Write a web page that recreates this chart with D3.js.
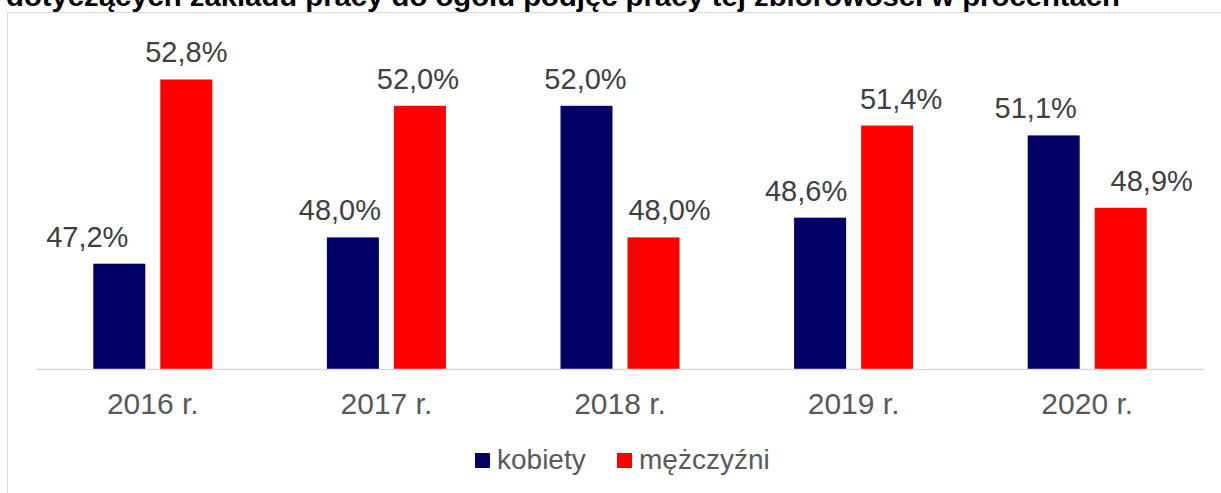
<!DOCTYPE html>
<html>
<head>
<meta charset="utf-8">
<script src="https://cdn.jsdelivr.net/npm/d3@7"></script>
<style>
  html, body { margin: 0; padding: 0; background: #fff; }
  svg { display: block; font-family: "Liberation Sans", Arial, sans-serif; }
</style>
</head>
<body>
<svg id="chart" width="1221" height="493"></svg>
<script>
// data
var title = "dotyczących zakładu pracy do ogółu podjęć pracy tej zbiorowości w procentach";
var years = ["2016 r.", "2017 r.", "2018 r.", "2019 r.", "2020 r."];
var seriesNames = ["kobiety", "mężczyźni"];
var kobiety = [47.2, 48.0, 52.0, 48.6, 51.1];
var mezczyzni = [52.8, 52.0, 48.0, 51.4, 48.9];
var seriesColors = ["#000066", "#ff0000"];

// labels were dragged sideways by hand in the original (px)
var shiftKobiety = [-32, -13, -1, -14, -18];
var shiftMezczyzni = [0, -2, 16, 14, 31];

var svg = d3.select("#chart");

// chart frame (only its top and left edge are inside the picture)
svg.append("rect")
    .attr("x", 7.5)
    .attr("y", 12.5)
    .attr("width", 1300)
    .attr("height", 600)
    .style("fill", "none")
    .style("stroke", "#d9d9d9")
    .style("stroke-width", 1);

// title, cut off at the top edge
svg.append("text")
    .attr("x", 6)
    .attr("y", 5.5)
    .attr("textLength", 1114)
    .attr("lengthAdjust", "spacingAndGlyphs")
    .style("font-size", "28px")
    .style("font-weight", "bold")
    .style("fill", "#000")
    .text(title);

var left = 36, right = 1204, baseY = 369, topY = 40;

var x0 = d3.scaleBand()
    .domain(years)
    .range([left, right]);

var x1 = d3.scaleBand()
    .domain(seriesNames)
    .range([0, x0.bandwidth()])
    .paddingInner(0.224)
    .paddingOuter(0.855);

var y = d3.scaleLinear()
    .domain([44, 54])
    .range([baseY, topY]);

var color = d3.scaleOrdinal()
    .domain(seriesNames)
    .range(seriesColors);

var rows = years.map(function(yr, i) {
    return {year: yr, boxes: [
        {name: seriesNames[0], value: kobiety[i], shift: shiftKobiety[i]},
        {name: seriesNames[1], value: mezczyzni[i], shift: shiftMezczyzni[i]}
    ]};
});

var groups = svg.selectAll(".year")
    .data(rows)
    .enter().append("g")
    .attr("class", "year")
    .attr("transform", function(d) { return "translate(" + x0(d.year) + ",0)"; });

var bars = groups.selectAll(".subbar")
    .data(function(d) { return d.boxes; })
    .enter().append("g").attr("class", "subbar");

bars.append("rect")
    .attr("x", function(d) { return x1(d.name); })
    .attr("y", function(d) { return y(d.value); })
    .attr("width", x1.bandwidth())
    .attr("height", function(d) { return baseY - y(d.value); })
    .style("fill", function(d) { return color(d.name); });

var fmt = function(v) { return v.toFixed(1).replace(".", ",") + "%"; };

bars.append("text")
    .attr("x", function(d) { return x1(d.name) + x1.bandwidth() / 2 + d.shift; })
    .attr("y", function(d) { return y(d.value) - 17; })
    .style("text-anchor", "middle")
    .style("font-size", "29px")
    .style("fill", "#404040")
    .text(function(d) { return fmt(d.value); });

// category axis
var xAxis = svg.append("g")
    .attr("class", "axis")
    .attr("transform", "translate(0," + baseY + ")")
    .call(d3.axisBottom(x0).tickSize(0).tickPadding(0).tickSizeOuter(0));

xAxis.select(".domain")
    .style("stroke", "#d9d9d9")
    .style("stroke-width", 1.5);

xAxis.selectAll("text")
    .attr("y", 45)
    .attr("dy", null)
    .style("font-size", "30px")
    .style("font-family", "Liberation Sans, Arial, sans-serif")
    .style("fill", "#595959");

// legend
var legendX = [475, 617];
var legend = svg.selectAll(".legend")
    .data(seriesNames)
    .enter().append("g")
    .attr("class", "legend")
    .attr("transform", function(d, i) { return "translate(" + legendX[i] + ",453)"; });

legend.append("rect")
    .attr("width", 15)
    .attr("height", 15)
    .style("fill", function(d) { return color(d); });

legend.append("text")
    .attr("x", 22)
    .attr("y", 16)
    .style("font-size", "28px")
    .style("fill", "#595959")
    .text(function(d) { return d; });
</script>
</body>
</html>
